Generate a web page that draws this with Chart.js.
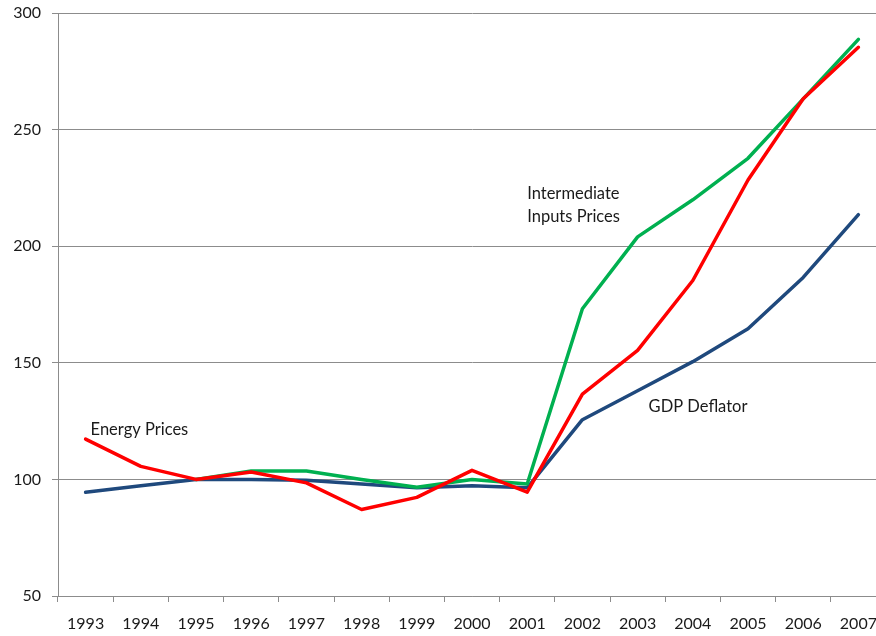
<!DOCTYPE html>
<html>
<head>
<meta charset="utf-8">
<script src="https://cdn.jsdelivr.net/npm/chart.js@4"></script>
<style>
  html, body { margin: 0; padding: 0; background: #fff; overflow: hidden; }
  #wrap { width: 886px; height: 636px; }
</style>
</head>
<body>
<div id="wrap"><canvas id="lineChart"></canvas></div>
<script>
//Data
var years = ["1993","1994","1995","1996","1997","1998","1999","2000","2001","2002","2003","2004","2005","2006","2007"];
var energyPrices = [117.3,105.6,100,103.2,98.5,87.1,92.3,103.9,94.5,136.6,155.3,185.3,228.4,263.2,285.3];
var intermediatePrices = [null,null,100,103.6,103.6,100,96.6,100,98,173.2,204,219.9,237.7,263.2,288.7];
var gdpDeflator = [94.5,97.3,100,100,99.6,98,96.4,97.3,96.4,125.6,138,150.5,164.6,186.6,213.5];
var yTicks = [50,100,150,200,250,300];

var textFont = "Lato, 'Open Sans', sans-serif";
var gridColor = "#8c8c8c";

//Text labels beside the lines
var seriesLabels = [
  {text: "Energy Prices", idx: 0, dx: 5, val: 121.3},
  {text: "Intermediate", idx: 8, dx: 0, val: 222.4},
  {text: "Inputs Prices", idx: 8, dx: 0, val: 212.7},
  {text: "GDP Deflator", idx: 10, dx: 11, val: 131.3}
];

var labelPlugin = {
  id: "seriesLabels",
  afterDatasetsDraw: function(chart){
    var ctx = chart.ctx;
    var xs = chart.scales.x, ys = chart.scales.y;
    ctx.save();
    ctx.font = "16.5px " + textFont;
    ctx.fillStyle = "#1a1a1a";
    ctx.textAlign = "left";
    ctx.textBaseline = "middle";
    for(var i = 0; i < seriesLabels.length; i++){
      var l = seriesLabels[i];
      ctx.fillText(l.text, xs.getPixelForValue(l.idx) + l.dx, ys.getPixelForValue(l.val));
    }
    ctx.restore();
  }
};

var ctxL = document.getElementById("lineChart").getContext("2d");
var myLineChart = new Chart(ctxL, {
  type: "line",
  data: {
    labels: years,
    datasets: [
      {label: "Energy Prices", data: energyPrices, borderColor: "#ff0000"},
      {label: "Intermediate Inputs Prices", data: intermediatePrices, borderColor: "#00b050"},
      {label: "GDP Deflator", data: gdpDeflator, borderColor: "#1f497d"}
    ]
  },
  options: {
    responsive: true,
    maintainAspectRatio: false,
    animation: false,
    layout: {padding: {top: 13, left: 0, right: 0, bottom: 0}},
    elements: {
      line: {borderWidth: 3.5, tension: 0, borderCapStyle: "round", borderJoinStyle: "round"},
      point: {radius: 0, hoverRadius: 0}
    },
    plugins: {legend: {display: false}, tooltip: {enabled: false}},
    scales: {
      x: {
        offset: true,
        grid: {offset: true, drawOnChartArea: false, drawTicks: true, tickLength: 6, color: gridColor},
        border: {color: gridColor, width: 1},
        ticks: {color: "#1a1a1a", font: {family: textFont, size: 16}, padding: 12, maxRotation: 0, autoSkip: false},
        afterFit: function(s){ s.height = 40; s.paddingLeft = 0; s.paddingRight = 0; }
      },
      y: {
        min: 50, max: 300,
        afterBuildTicks: function(s){ s.ticks = yTicks.map(function(v){ return {value: v}; }); },
        grid: {color: gridColor, tickLength: 6, drawTicks: true},
        border: {color: gridColor, width: 1},
        ticks: {color: "#1a1a1a", font: {family: textFont, size: 16}, padding: 11},
        afterFit: function(s){ s.width = 58; s.paddingTop = 0; s.paddingBottom = 0; }
      }
    }
  },
  plugins: [labelPlugin]
});
</script>
</body>
</html>
